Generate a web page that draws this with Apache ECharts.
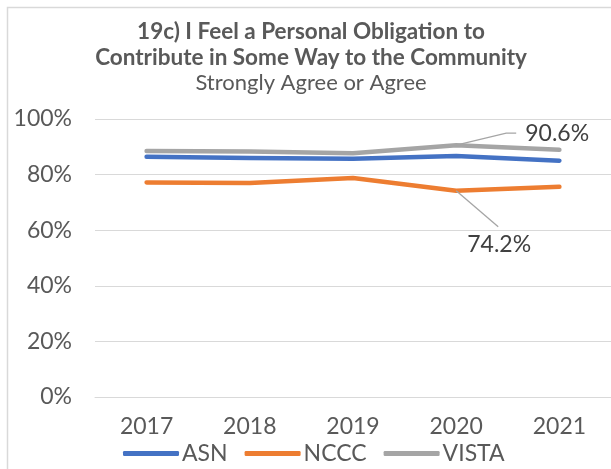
<!DOCTYPE html>
<html>
<head>
<meta charset="utf-8">
<script src="https://cdn.jsdelivr.net/npm/echarts@6/dist/echarts.min.js"></script>
<style>
html,body{margin:0;padding:0;background:#fff;}
#main{width:611px;height:469px;}
</style>
</head>
<body>
<div id="main"></div>
<script>
// chart data
var years = ['2017', '2018', '2019', '2020', '2021'];
var asn = [86.4, 86.0, 85.7, 86.7, 85.0];
var nccc = [77.2, 77.0, 78.8, 74.2, 75.6];
var vista = [88.5, 88.3, 87.7, 90.6, 88.9];
var yTicks = [0, 20, 40, 60, 80, 100];
// callouts: [category index, value, side]
var callouts = [[3, vista[3], 0], [3, nccc[3], 1]];
var titleLines = ['19c) I Feel a Personal Obligation to', 'Contribute in Some Way to the Community'];
var subTitle = 'Strongly Agree or Agree';

var txt = '#595959';
var font = 'Lato';

function mkSeries(name, data, color){
	return {
		name:name,
		type:'line',
		data:data,
		symbol:'none',
		lineStyle:{width:4.5, color:color, cap:'round', join:'round'},
		itemStyle:{color:color},
		emphasis:{disabled:true}
	};
}

// leader line + value text, placed relative to the data point
function drawCallout(params, api){
	var pt = api.coord([api.value(0), api.value(1)]);
	var px = pt[0], py = pt[1];
	var label = api.value(1).toFixed(1) + '%';
	var pts, tx, ty, align;
	if(api.value(2)==0){
		pts = [[px, py], [px+50, py-12], [px+60, py-12]];
		tx = px+69; ty = py-12; align = 'left';
	}else{
		pts = [[px, py], [px+42, py+36]];
		tx = px+43; ty = py+54; align = 'center';
	}
	return {
		type:'group',
		children:[
			{type:'polyline', shape:{points:pts}, style:{stroke:'#a5a5a5', lineWidth:1.3, fill:null}},
			{type:'text', style:{text:label, x:tx, y:ty, fill:'#404040', fontFamily:font, fontSize:23,
				align:align, verticalAlign:'middle'}}
		]
	};
}

function titleText(str, y, bold, size){
	return {
		type:'text',
		x:311, y:y,
		silent:true,
		style:{text:str, fill:txt, fontFamily:font, fontWeight:bold?'bold':'normal', fontSize:size,
			align:'center', verticalAlign:'middle'}
	};
}

var myChart = echarts.init(document.getElementById('main'));
var option = {
	animation:false,
	graphic:[{
		type:'rect',
		shape:{x:7.5, y:7.5, width:700, height:700},
		style:{fill:'none', stroke:'#d9d9d9', lineWidth:1.5},
		silent:true
	},
	titleText(titleLines[0], 32, true, 22.5),
	titleText(titleLines[1], 58, true, 22.5),
	titleText(subTitle, 83, false, 22)
	],
	legend:{
		data:['ASN','NCCC','VISTA'],
		icon:'roundRect',
		left:118,
		top:437,
		itemWidth:56,
		itemHeight:5,
		itemGap:17,
		textStyle:{fontFamily:font, fontSize:23, color:txt, padding:[0,0,0,-2]}
	},
	grid:{left:95, right:-8, top:119, bottom:72},
	xAxis:{
		type:'category',
		data:years,
		boundaryGap:true,
		axisLine:{show:true, lineStyle:{color:'#d9d9d9', width:1}},
		axisTick:{show:false},
		axisLabel:{fontFamily:font, fontSize:23, color:txt, margin:18}
	},
	yAxis:{
		type:'value',
		min:yTicks[0],
		max:yTicks[yTicks.length-1],
		interval:yTicks[1]-yTicks[0],
		axisLine:{show:false},
		axisTick:{show:false},
		splitLine:{lineStyle:{color:'#d9d9d9', width:1}},
		axisLabel:{fontFamily:font, fontSize:23, color:txt, margin:23, formatter:'{value}%'}
	},
	series:[
		mkSeries('ASN', asn, '#4472c4'),
		mkSeries('NCCC', nccc, '#ed7d31'),
		mkSeries('VISTA', vista, '#a5a5a5'),
		{
			name:'callouts',
			type:'custom',
			data:callouts,
			renderItem:drawCallout,
			silent:true,
			z:5
		}
	]
};
myChart.setOption(option);
</script>
</body>
</html>
